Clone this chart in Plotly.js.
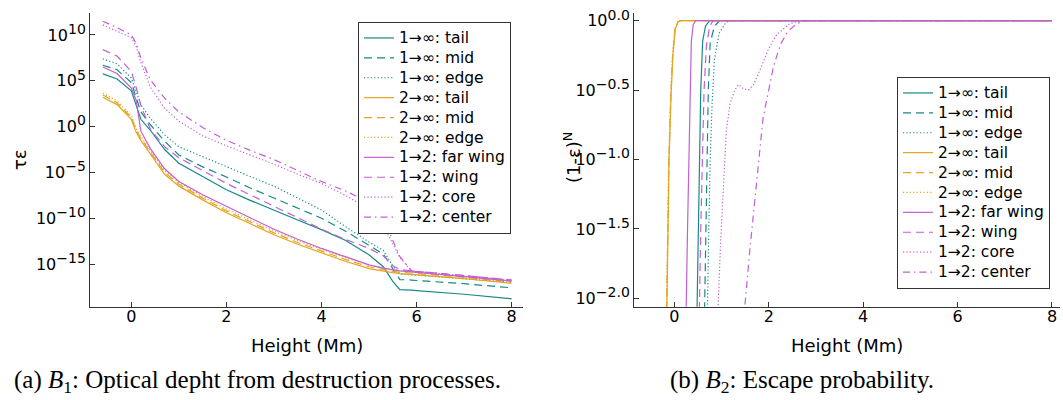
<!DOCTYPE html>
<html><head><meta charset="utf-8">
<script src="https://cdn.plot.ly/plotly-3.0.1.min.js"></script>
<style>html,body{margin:0;padding:0;background:#fff;} #chart{width:1063px;height:400px;}</style>
</head><body><div id="chart"></div>
<script>
// ---------- Panel (a): optical depth tau*eps (values stored as log10 exponents) ----------
const heightA = [-0.6, -0.3, 0, 0.1, 0.2, 0.4, 0.7, 1.0, 1.5, 2, 2.5, 3, 3.5, 4, 4.5, 5, 5.3, 5.5, 5.65, 5.9, 6, 7, 8];
const tauA_1inf_tail = [5.75, 5.2, 3.9, 2.4, 0.8, -0.4, -2.5, -4.0, -5.45, -6.9, -8.05, -9.15, -10.2, -11.25, -12.4, -14.0, -15.3, -16.9, -17.8, -17.85, -17.9, -18.3, -18.8];
const tauA_1inf_mid  = [6.7, 6.2, 4.8, 3.3, 1.6, 0.2, -1.6, -3.1, -4.4, -5.5, -6.7, -7.8, -8.9, -10.0, -11.4, -13.0, -13.9, -15.5, -16.7, -16.75, -16.8, -17.15, -17.6];
const tauA_1inf_edge = [7.4, 6.85, 5.3, 3.8, 2.4, 0.9, -0.9, -2.2, -3.3, -4.4, -5.45, -6.5, -7.8, -9.1, -10.9, -12.6, -13.5, -15.2, -16.1, -16.2, -16.25, -16.6, -17.0];
const tauA_2inf_tail = [3.2, 2.4, 0.8, -0.6, -1.5, -3.0, -5.2, -6.5, -8.0, -9.4, -10.6, -11.8, -12.85, -13.8, -14.7, -15.5, -15.8, -15.95, -16.05, -16.15, -16.2, -16.6, -17.1];
const tauA_2inf_mid  = [3.45, 2.6, 1.0, -0.4, -1.3, -2.8, -5.0, -6.3, -7.8, -9.2, -10.4, -11.6, -12.65, -13.6, -14.5, -15.3, -15.65, -15.8, -15.9, -16.0, -16.05, -16.45, -16.95];
const tauA_2inf_edge = [3.65, 2.8, 1.2, -0.2, -1.1, -2.6, -4.8, -6.1, -7.6, -9.0, -10.2, -11.4, -12.45, -13.4, -14.3, -15.1, -15.5, -15.65, -15.75, -15.85, -15.9, -16.35, -16.85];
const tauA_12_farwing = [6.5, 5.8, 4.2, 2.9, -0.5, -2.4, -4.6, -6.0, -7.45, -8.7, -10.0, -11.2, -12.3, -13.3, -14.2, -15.1, -15.45, -15.65, -15.75, -15.85, -15.9, -16.35, -16.85];
const tauA_12_wing   = [8.4, 7.7, 6.0, 4.3, 2.3, -0.3, -2.2, -3.4, -4.8, -6.2, -7.45, -8.7, -10.0, -11.2, -12.3, -13.3, -14.1, -15.2, -15.6, -15.75, -15.8, -16.25, -16.75];
const tauA_12_core   = [11.1, 10.4, 9.7, 8.8, 7.0, 4.3, 2.0, 0.6, -1.0, -2.1, -3.1, -4.1, -5.2, -6.2, -7.5, -9.0, -10.8, -12.8, -14.3, -15.8, -15.85, -16.3, -16.8];
const tauA_12_center = [11.5, 10.8, 10.0, 9.1, 7.5, 5.1, 3.1, 1.6, -0.1, -1.5, -2.6, -3.6, -4.8, -6.0, -7.0, -8.3, -10.0, -12.5, -14.2, -15.75, -15.8, -16.25, -16.75];

// ---------- Panel (b): escape probability (1-eps)^N (log10 exponents) ----------
const hB_2inf_tail = [-0.6, -0.17, -0.14, -0.11, -0.07, -0.03, 0.02, 0.08, 0.13, 8];
const pB_2inf_tail = [-12, -2.1, -1.5, -1.0, -0.55, -0.25, -0.06, -0.01, 0, 0];
const hB_2inf_mid  = [-0.6, -0.175, -0.145, -0.115, -0.075, -0.035, 0.015, 0.075, 0.13, 8];
const pB_2inf_mid  = [-12, -2.1, -1.5, -1.0, -0.55, -0.25, -0.06, -0.01, 0, 0];
const hB_2inf_edge = [-0.6, -0.18, -0.15, -0.12, -0.08, -0.04, 0.01, 0.07, 0.12, 8];
const pB_2inf_edge = [-12, -2.1, -1.5, -1.0, -0.55, -0.25, -0.06, -0.01, 0, 0];
const hB_1inf_tail = [-0.6, 0.47, 0.5, 0.53, 0.56, 0.6, 0.66, 0.75, 8];
const pB_1inf_tail = [-12, -2.3, -1.7, -1.0, -0.5, -0.15, -0.04, 0, 0];
const hB_1inf_mid  = [-0.6, 0.63, 0.67, 0.69, 0.72, 0.76, 0.85, 0.96, 8];
const pB_1inf_mid  = [-12, -2.3, -1.5, -1.1, -0.5, -0.16, -0.04, 0, 0];
const hB_1inf_edge = [-0.6, 0.69, 0.73, 0.76, 0.8, 0.85, 0.95, 1.1, 1.2, 8];
const pB_1inf_edge = [-12, -2.3, -1.5, -1.0, -0.6, -0.28, -0.09, -0.01, 0, 0];
const hB_12_farwing = [-0.6, 0.24, 0.28, 0.31, 0.34, 0.36, 0.4, 0.45, 8];
const pB_12_farwing = [-12, -2.3, -1.5, -1.0, -0.5, -0.15, -0.03, 0, 0];
const hB_12_wing   = [-0.6, 0.52, 0.56, 0.59, 0.63, 0.68, 0.75, 0.82, 8];
const pB_12_wing   = [-12, -2.3, -1.5, -1.0, -0.5, -0.18, -0.04, 0, 0];
const hB_12_core   = [-0.6, 0.9, 0.98, 1.04, 1.1, 1.18, 1.28, 1.36, 1.46, 1.57, 1.68, 1.82, 2.0, 2.17, 2.45, 2.7, 8];
const pB_12_core   = [-12, -2.3, -1.6, -1.15, -0.8, -0.6, -0.5, -0.46, -0.49, -0.5, -0.46, -0.35, -0.2, -0.1, -0.02, 0, 0];
const hB_12_center = [-0.6, 1.43, 1.6, 1.71, 1.75, 1.88, 2.0, 2.1, 2.25, 2.4, 2.6, 2.8, 8];
const pB_12_center = [-12, -2.3, -1.65, -1.29, -1.15, -0.7, -0.5, -0.33, -0.17, -0.08, -0.02, 0, 0];

const seriesNames = ["1→∞: tail", "1→∞: mid", "1→∞: edge", "2→∞: tail", "2→∞: mid", "2→∞: edge",
                     "1→2: far wing", "1→2: wing", "1→2: core", "1→2: center"];
const tickValsA = [-15, -10, -5, 0, 5, 10];
const tickExpA = ["−15", "−10", "−5", "0", "5", "10"];
const tickValsB = [-2.0, -1.5, -1.0, -0.5, 0.0];
const tickExpB = ["−2.0", "−1.5", "−1.0", "−0.5", "0.0"];
const xTicks = [0, 2, 4, 6, 8];

// ---------- styling ----------
const TEAL = '#178a86', GOLD = '#e3a51c', PURP = '#c15fd6';
const SOLID = 'solid', DASH = '8px,5px', DOT = '1.2px,2.2px', DASHDOT = '7px,4px,1.5px,4px';
const styles = [
  [TEAL, SOLID], [TEAL, DASH], [TEAL, DOT],
  [GOLD, SOLID], [GOLD, DASH], [GOLD, DOT],
  [PURP, SOLID], [PURP, DASH], [PURP, DOT], [PURP, DASHDOT]
];
const pw = a => a.map(v => Math.pow(10, v));
const legendLabel = n => '<span style="font-size:15.5px">' + n + '</span>';
const powLabel = e => '10<sup><span style="font-size:14px">' + e + '</span></sup>';

const seriesA = [tauA_1inf_tail, tauA_1inf_mid, tauA_1inf_edge, tauA_2inf_tail, tauA_2inf_mid, tauA_2inf_edge,
                 tauA_12_farwing, tauA_12_wing, tauA_12_core, tauA_12_center];
const seriesB = [[hB_1inf_tail, pB_1inf_tail], [hB_1inf_mid, pB_1inf_mid], [hB_1inf_edge, pB_1inf_edge],
                 [hB_2inf_tail, pB_2inf_tail], [hB_2inf_mid, pB_2inf_mid], [hB_2inf_edge, pB_2inf_edge],
                 [hB_12_farwing, pB_12_farwing], [hB_12_wing, pB_12_wing], [hB_12_core, pB_12_core], [hB_12_center, pB_12_center]];

const traces = [];
seriesA.forEach((s, i) => {
  traces.push({x: heightA, y: pw(s), type: 'scatter', mode: 'lines', name: legendLabel(seriesNames[i]),
    xaxis: 'x', yaxis: 'y', legend: 'legend',
    line: {color: styles[i][0], dash: styles[i][1], width: 1.2}, hoverinfo: 'skip'});
});
seriesB.forEach((s, i) => {
  traces.push({x: s[0], y: pw(s[1]), type: 'scatter', mode: 'lines', name: legendLabel(seriesNames[i]),
    xaxis: 'x2', yaxis: 'y2', legend: 'legend2',
    line: {color: styles[i][0], dash: styles[i][1], width: 1.2}, hoverinfo: 'skip'});
});

const W = 1063, H = 400;
const AX = '#333';
const baseX = {showline: true, linecolor: AX, linewidth: 1, ticks: 'inside', ticklen: 5, tickcolor: AX,
  showgrid: false, zeroline: false, tickvals: xTicks, ticktext: xTicks.map(String), tickfont: {size: 16, color: '#000'},
  mirror: false, ticklabelstandoff: -5};
const baseY = {showline: true, linecolor: AX, linewidth: 1, ticks: 'inside', ticklen: 5, tickcolor: AX,
  showgrid: false, zeroline: false, type: 'log', tickfont: {size: 16, color: '#000'}, mirror: false};
const legendBase = {xanchor: 'left', yanchor: 'top', bgcolor: '#fff', bordercolor: '#333', borderwidth: 1,
  font: {size: 13, color: '#000', family: 'DejaVu Sans'}, traceorder: 'normal'};
const ann = (text, x, y, extra) => Object.assign({text: text, x: x / W, y: (H - y) / H, xref: 'paper', yref: 'paper',
  xanchor: 'center', yanchor: 'middle', showarrow: false, font: {size: 18}}, extra || {});

const layout = {
  width: W, height: H, margin: {l: 0, r: 0, t: 0, b: 0},
  paper_bgcolor: '#fff', plot_bgcolor: '#fff',
  font: {family: 'DejaVu Sans', size: 16, color: '#000'},
  showlegend: true,
  xaxis: Object.assign({}, baseX, {domain: [90 / W, 523 / W], anchor: 'y', range: [-0.87, 8.24]}),
  yaxis: Object.assign({}, baseY, {domain: [(H - 306.7) / H, (H - 13) / H], anchor: 'x', range: [-19.66, 12.4],
    tickvals: pw(tickValsA), ticktext: tickExpA.map(powLabel)}),
  xaxis2: Object.assign({}, baseX, {domain: [634 / W, 1060 / W], anchor: 'y2', range: [-0.854, 8.17]}),
  yaxis2: Object.assign({}, baseY, {domain: [(H - 306.7) / H, (H - 13) / H], anchor: 'x2', range: [-2.06, 0.055],
    tickvals: pw(tickValsB), ticktext: tickExpB.map(powLabel)}),
  legend: Object.assign({}, legendBase, {x: 358 / W, y: (H - 22) / H}),
  legend2: Object.assign({}, legendBase, {x: 897 / W, y: (H - 77) / H}),
  annotations: [
    ann('τε', 19, 160, {textangle: -90}),
    ann('(1-ε)<sup>N</sup>', 572, 158, {textangle: -90}),
    ann('Height (Mm)', 306.5, 345),
    ann('Height (Mm)', 847, 345),
    ann('(a) <i>B</i><sub>1</sub>: Optical depht from destruction processes.', 257.5, 381, {font: {family: 'Liberation Serif', size: 25}}),
    ann('(b) <i>B</i><sub>2</sub>: Escape probability.', 802, 381, {font: {family: 'Liberation Serif', size: 25}})
  ]
};

Plotly.newPlot('chart', traces, layout, {staticPlot: true, displayModeBar: false});
</script>
</body></html>
